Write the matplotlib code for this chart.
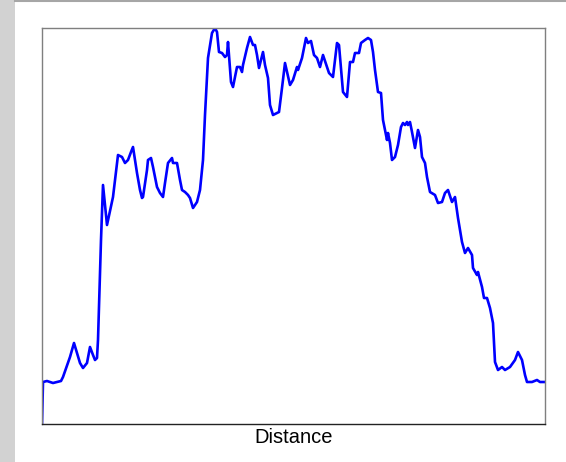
import matplotlib.pyplot as plt
from matplotlib.patches import Rectangle
from matplotlib.lines import Line2D

# ── Profile data (distance, height) ───────────────────────────────────────────
distance = [0, 1, 5, 8, 11, 15, 19, 21, 28, 32,
            38, 41, 45, 48, 51, 53, 55, 56, 59, 61,
            65, 71, 76, 80, 83, 86, 89, 91, 95, 98,
            100, 101, 105, 106, 109, 111, 115, 118, 121, 123,
            126, 130, 131, 135, 138, 140, 143, 146, 148, 151,
            153, 155, 158, 161, 163, 166, 170, 173, 175, 177,
            180, 183, 185, 186, 187, 189, 191, 195, 198, 200,
            201, 205, 208, 211, 213, 215, 217, 221, 223, 226,
            228, 231, 235, 237, 240, 243, 248, 251, 255, 256,
            260, 264, 266, 269, 272, 275, 278, 281, 285, 287,
            291, 295, 297, 301, 305, 308, 311, 313, 317, 319,
            323, 326, 329, 331, 333, 336, 339, 341, 345, 346,
            348, 350, 353, 356, 359, 361, 363, 365, 366, 368,
            370, 373, 376, 378, 380, 383, 385, 388, 393, 396,
            400, 403, 406, 410, 413, 416, 420, 423, 426, 430,
            431, 435, 436, 440, 442, 445, 448, 451, 453, 456,
            460, 463, 468, 473, 476, 480, 483, 485, 490, 495,
            498, 503]
height = [0, 42, 43, 42, 41, 42, 43, 47, 67, 81,
          61, 56, 61, 77, 69, 64, 66, 84, 184, 239,
          199, 227, 269, 267, 261, 264, 272, 277, 251, 234,
          226, 227, 254, 264, 266, 257, 237, 231, 227, 241,
          261, 266, 261, 261, 244, 234, 232, 229, 226, 216,
          219, 222, 234, 264, 309, 366, 391, 396, 392, 372,
          371, 367, 369, 382, 369, 342, 337, 357, 357, 352,
          359, 376, 387, 379, 379, 369, 356, 372, 359, 346,
          319, 309, 311, 312, 336, 361, 339, 344, 357, 354,
          366, 386, 381, 383, 369, 366, 357, 369, 357, 351,
          347, 381, 379, 332, 327, 362, 362, 371, 371, 381,
          384, 386, 384, 372, 354, 332, 331, 304, 284, 291,
          281, 264, 267, 279, 297, 301, 299, 302, 299, 302,
          292, 276, 294, 287, 267, 261, 247, 232, 229, 221,
          222, 231, 234, 222, 227, 206, 182, 171, 176, 169,
          156, 149, 152, 137, 126, 126, 116, 101, 62, 54,
          57, 54, 57, 64, 72, 64, 49, 42, 42, 44,
          42, 42]

fig = plt.figure(figsize=(5.66, 4.62), dpi=100)
fig.patch.set_facecolor('white')

# grey window chrome on the left and along the top
fig.patches.append(Rectangle((0, 0), 15 / 566, 1, transform=fig.transFigure,
                             facecolor='#d2d2d2', edgecolor='none', zorder=0))
fig.lines.append(Line2D([15 / 566, 1], [1 - 1 / 462, 1 - 1 / 462],
                        transform=fig.transFigure, color='#a6a6a6', lw=1.5))

ax = fig.add_axes([42 / 566, 38 / 462, 503 / 566, 396 / 462])
ax.plot(distance, height, color='#0000ff', lw=1.9, solid_joinstyle='round')
ax.set_xlim(0, 503)
ax.set_ylim(0, 396)

ax.set_xticks([])
ax.set_yticks([])
for side in ['left', 'top', 'right']:
    ax.spines[side].set_color('#7f7f7f')
ax.spines['bottom'].set_color('#222222')
for s in ax.spines.values():
    s.set_linewidth(1.0)

ax.set_xlabel('Distance', fontsize=14.5, family='Liberation Sans', labelpad=3)

fig.savefig('out.png', dpi=100)
